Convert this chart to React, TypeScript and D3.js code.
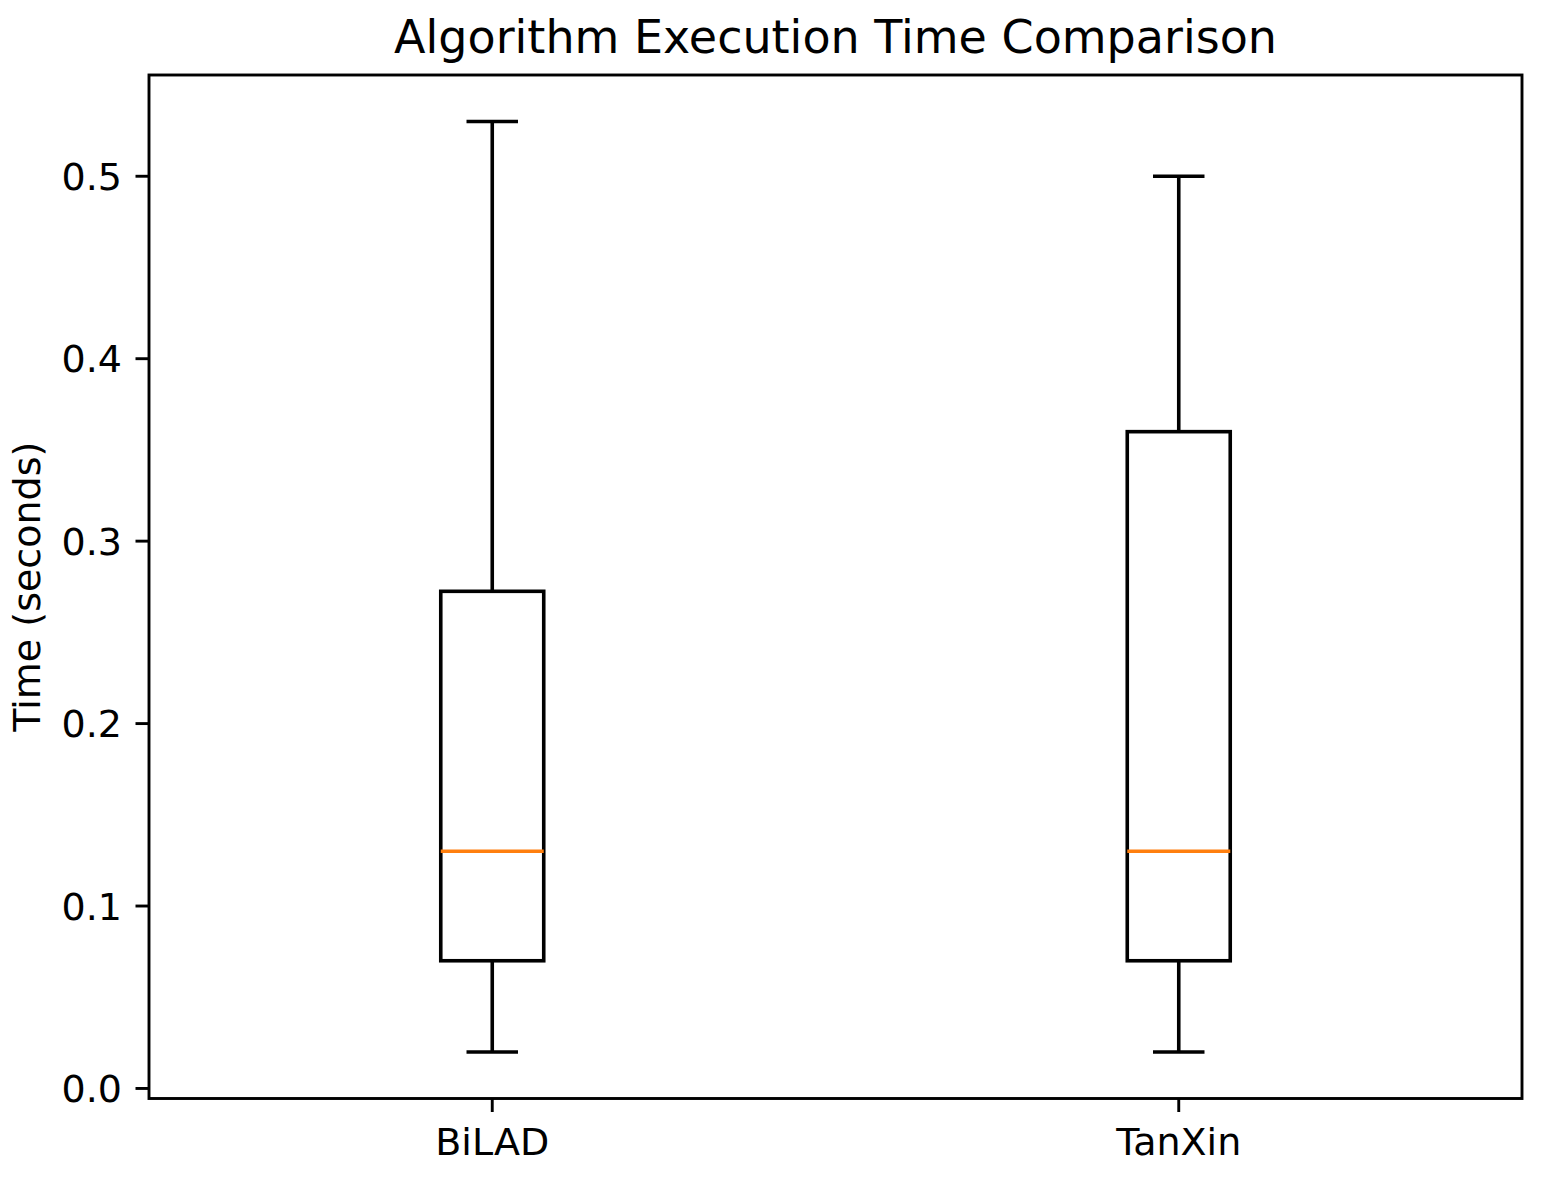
import React from "react";
import * as d3 from "d3";

const categories = ["BiLAD", "TanXin"];
const whiskerLow = [0.02, 0.02];
const q1 = [0.07, 0.07];
const median = [0.13, 0.13];
const q3 = [0.2725, 0.36];
const whiskerHigh = [0.53, 0.5];
const yTicks = [0.0, 0.1, 0.2, 0.3, 0.4, 0.5];

const W = 1548;
const H = 1177;
const left = 149;
const right = 1522;
const top = 75;
const bottom = 1098.5;

export default function App() {
  const lo = d3.min(whiskerLow)!;
  const hi = d3.max(whiskerHigh)!;
  const pad = (hi - lo) * 0.05;
  const y = d3.scaleLinear().domain([lo - pad, hi + pad]).range([bottom, top]);
  const x = d3.scaleLinear().domain([0.5, categories.length + 0.5]).range([left, right]);
  const boxW = x(1.15) - x(1);
  const capW = boxW / 2;
  const font = "DejaVu Sans, sans-serif";
  const lw = 3.6;
  const sw = 2.9;
  const fs = 38;

  return (
    <svg width={W} height={H} style={{ position: "absolute", left: 0, top: 0, background: "#fff" }}>
      <rect x={0} y={0} width={W} height={H} fill="#fff" />
      {categories.map((c, i) => {
        const cx = x(i + 1);
        return (
          <g key={c} fill="none" stroke="#000" strokeWidth={lw}>
            <line x1={cx} x2={cx} y1={y(whiskerLow[i])} y2={y(q1[i])} />
            <line x1={cx} x2={cx} y1={y(q3[i])} y2={y(whiskerHigh[i])} />
            <line x1={cx - capW / 2} x2={cx + capW / 2} y1={y(whiskerLow[i])} y2={y(whiskerLow[i])} />
            <line x1={cx - capW / 2} x2={cx + capW / 2} y1={y(whiskerHigh[i])} y2={y(whiskerHigh[i])} />
            <rect x={cx - boxW / 2} y={y(q3[i])} width={boxW} height={y(q1[i]) - y(q3[i])} />
            <line x1={cx - boxW / 2} x2={cx + boxW / 2} y1={y(median[i])} y2={y(median[i])} stroke="#ff7f0e" />
          </g>
        );
      })}
      <rect x={left} y={top} width={right - left} height={bottom - top} fill="none" stroke="#000" strokeWidth={sw} />
      {yTicks.map((t) => (
        <g key={t}>
          <line x1={left - 13.5} x2={left} y1={y(t)} y2={y(t)} stroke="#000" strokeWidth={sw} />
          <text x={left - 27} y={y(t)} dy="0.36em" textAnchor="end" fontFamily={font} fontSize={fs}>
            {t.toFixed(1)}
          </text>
        </g>
      ))}
      {categories.map((c, i) => (
        <g key={c}>
          <line x1={x(i + 1)} x2={x(i + 1)} y1={bottom} y2={bottom + 13.5} stroke="#000" strokeWidth={sw} />
          <text x={x(i + 1)} y={1155} textAnchor="middle" fontFamily={font} fontSize={fs}>
            {c}
          </text>
        </g>
      ))}
      <text
        transform={`translate(40, ${(top + bottom) / 2}) rotate(-90)`}
        textAnchor="middle"
        fontFamily={font}
        fontSize={fs}
      >
        Time (seconds)
      </text>
      <text x={(left + right) / 2} y={53} textAnchor="middle" fontFamily={font} fontSize={46}>
        Algorithm Execution Time Comparison
      </text>
    </svg>
  );
}
